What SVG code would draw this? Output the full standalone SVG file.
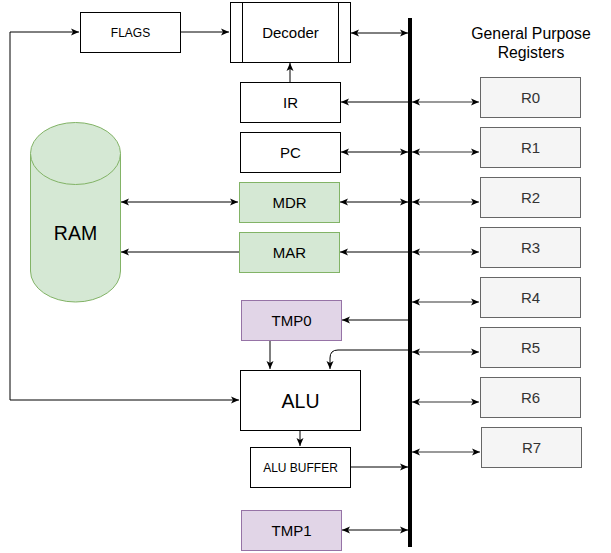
<svg xmlns="http://www.w3.org/2000/svg" width="611" height="553" viewBox="0 0 611 553">
<style>
.n{fill:#fff;stroke:#000;stroke-width:1}
.g{fill:#d5e8d4;stroke:#82b366;stroke-width:1}
.p{fill:#e1d5e7;stroke:#9673a6;stroke-width:1}
.r{fill:#f5f5f5;stroke:#666;stroke-width:1}
.t{font-family:"Liberation Sans",Arial,sans-serif;font-size:15px;text-anchor:middle;dominant-baseline:central;fill:#000}
.s{font-size:12px}
.b{font-size:19.5px}
.rt{fill:#333}
.c{fill:none;stroke:#000;stroke-width:1}
.cg{fill:none;stroke:#777;stroke-width:1.3}
</style>
<defs>
<marker id="a" markerWidth="10" markerHeight="8" refX="8" refY="4" orient="auto-start-reverse" markerUnits="userSpaceOnUse">
<path d="M0,0.5 L8,4 L0,7.5 L2,4 z" fill="#000"/>
</marker>
</defs>
<g id="bus"><line x1="410" y1="18" x2="410" y2="547" stroke="#000" stroke-width="4"/></g>
<g id="connectors">
<path class="c" d="M10,400 L10,32 L79,32" marker-end="url(#a)"/>
<path class="c" d="M10,400 L239,400" marker-end="url(#a)"/>
<path class="c" d="M180,32 L229,32" marker-end="url(#a)"/>
<path class="c" d="M351,33 L408,33" marker-start="url(#a)" marker-end="url(#a)"/>
<path class="c" d="M290,82 L290,63" marker-end="url(#a)"/>
<path class="c" d="M408,102 L341,102" marker-end="url(#a)"/>
<path class="c" d="M341,152 L408,152" marker-start="url(#a)" marker-end="url(#a)"/>
<path class="c" d="M340,202 L408,202" marker-start="url(#a)" marker-end="url(#a)"/>
<path class="c" d="M408,252 L340,252" marker-end="url(#a)"/>
<path class="c" d="M121,202 L238,202" marker-start="url(#a)" marker-end="url(#a)"/>
<path class="c" d="M239,252 L121,252" marker-end="url(#a)"/>
<path class="c" d="M408,320 L342,320" marker-end="url(#a)"/>
<path class="c" d="M270,341 L270,369" marker-end="url(#a)"/>
<path class="c" d="M408,350 L338,350 Q330,350 330,358 L330,369" marker-end="url(#a)"/>
<path class="c" d="M300,430 L300,446" marker-end="url(#a)"/>
<path class="c" d="M351,467 L408,467" marker-end="url(#a)"/>
<path class="c" d="M342,530 L408,530" marker-start="url(#a)" marker-end="url(#a)"/>
<path class="cg" d="M412,102 L479,102" marker-start="url(#a)" marker-end="url(#a)"/>
<path class="cg" d="M412,152 L479,152" marker-start="url(#a)" marker-end="url(#a)"/>
<path class="cg" d="M412,202 L479,202" marker-start="url(#a)" marker-end="url(#a)"/>
<path class="cg" d="M412,252 L479,252" marker-start="url(#a)" marker-end="url(#a)"/>
<path class="cg" d="M412,302 L479,302" marker-start="url(#a)" marker-end="url(#a)"/>
<path class="cg" d="M412,352 L479,352" marker-start="url(#a)" marker-end="url(#a)"/>
<path class="cg" d="M412,402 L479,402" marker-start="url(#a)" marker-end="url(#a)"/>
<path class="cg" d="M412,452 L480,452" marker-start="url(#a)" marker-end="url(#a)"/>
</g>
<g id="flags"><rect class="n" x="80.5" y="12.5" width="100" height="40"/><text class="t s" x="130.5" y="32.5">FLAGS</text></g>
<g id="decoder"><rect class="n" x="230.5" y="2.5" width="120" height="60"/><line class="c" x1="242.5" y1="2.5" x2="242.5" y2="62.5"/><line class="c" x1="338.5" y1="2.5" x2="338.5" y2="62.5"/><text class="t" x="290.5" y="32.5">Decoder</text></g>
<g id="ir"><rect class="n" x="240.5" y="82.5" width="100" height="40"/><text class="t" x="290.5" y="102.5">IR</text></g>
<g id="pc"><rect class="n" x="240.5" y="132.5" width="100" height="40"/><text class="t" x="290.5" y="152.5">PC</text></g>
<g id="mdr"><rect class="g" x="239.5" y="182.5" width="100" height="40"/><text class="t" x="289.5" y="202.5">MDR</text></g>
<g id="mar"><rect class="g" x="239.5" y="232.5" width="100" height="40"/><text class="t" x="289.5" y="252.5">MAR</text></g>
<g id="ram"><path class="g" d="M30.5,153.5 A45,31 0 0 1 120.5,153.5 L120.5,271 A45,31 0 0 1 30.5,271 Z"/><path class="g" d="M30.5,153.5 A45,31 0 0 0 120.5,153.5"/><text class="t b" x="75.5" y="233">RAM</text></g>
<g id="tmp0"><rect class="p" x="241.5" y="300.5" width="100" height="40"/><text class="t" x="291.5" y="320.5">TMP0</text></g>
<g id="alu"><rect class="n" x="240.5" y="370.5" width="120" height="60"/><text class="t b" x="300.5" y="400.5">ALU</text></g>
<g id="alubuffer"><rect class="n" x="250.5" y="447.5" width="100" height="40"/><text class="t s" x="300.5" y="467.5">ALU BUFFER</text></g>
<g id="tmp1"><rect class="p" x="241.5" y="510.5" width="100" height="40"/><text class="t" x="291.5" y="530.5">TMP1</text></g>
<g id="gpr-label"><text class="t" x="531" y="33" style="font-size:15.8px">General Purpose</text><text class="t" x="531" y="52" style="font-size:15.8px">Registers</text></g>
<g id="r0"><rect class="r" x="480.5" y="77.5" width="100" height="40"/><text class="t rt" x="530.5" y="97.5">R0</text></g>
<g id="r1"><rect class="r" x="480.5" y="127.5" width="100" height="40"/><text class="t rt" x="530.5" y="147.5">R1</text></g>
<g id="r2"><rect class="r" x="480.5" y="177.5" width="100" height="40"/><text class="t rt" x="530.5" y="197.5">R2</text></g>
<g id="r3"><rect class="r" x="480.5" y="227.5" width="100" height="40"/><text class="t rt" x="530.5" y="247.5">R3</text></g>
<g id="r4"><rect class="r" x="480.5" y="277.5" width="100" height="40"/><text class="t rt" x="530.5" y="297.5">R4</text></g>
<g id="r5"><rect class="r" x="480.5" y="327.5" width="100" height="40"/><text class="t rt" x="530.5" y="347.5">R5</text></g>
<g id="r6"><rect class="r" x="480.5" y="377.5" width="100" height="40"/><text class="t rt" x="530.5" y="397.5">R6</text></g>
<g id="r7"><rect class="r" x="481.5" y="427.5" width="100" height="40"/><text class="t rt" x="531.5" y="447.5">R7</text></g>
</svg>
